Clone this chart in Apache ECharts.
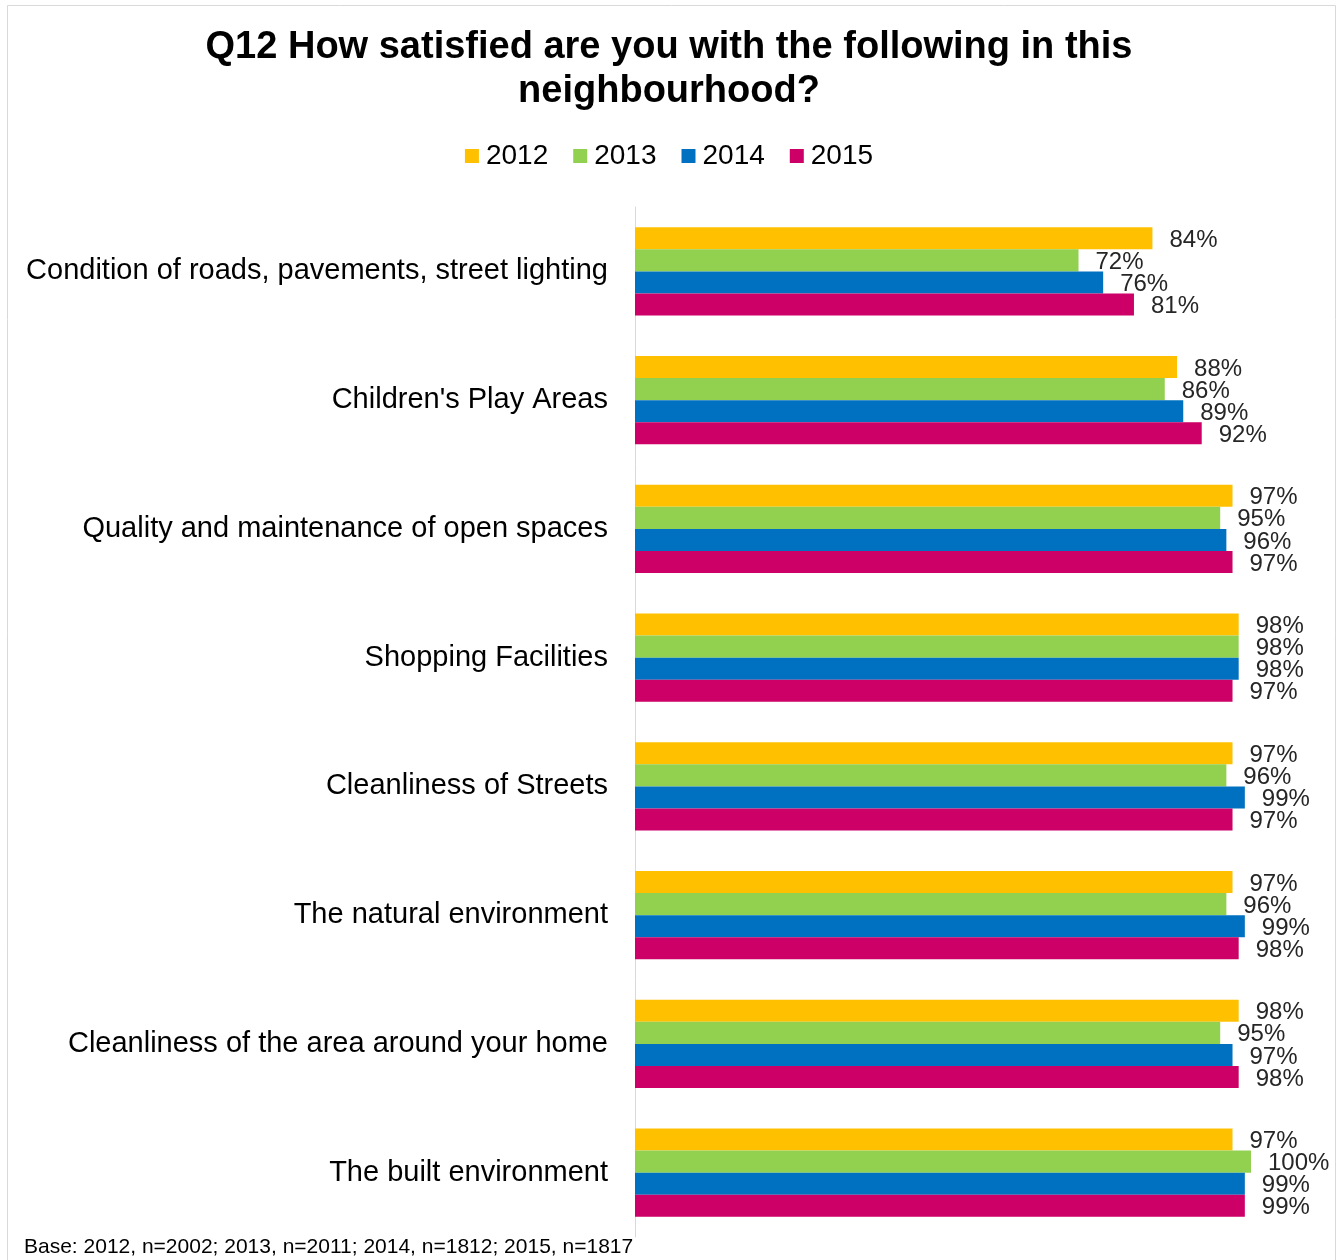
<!DOCTYPE html>
<html>
<head>
<meta charset="utf-8">
<script src="https://cdn.jsdelivr.net/npm/echarts@6/dist/echarts.min.js"></script>
<style>
html,body{margin:0;padding:0;background:#fff;}
#chart{width:1338px;height:1260px;}
</style>
</head>
<body>
<div id="chart"></div>
<script>
var categories = [
  "Condition of roads, pavements, street lighting",
  "Children's Play Areas",
  "Quality and maintenance of open spaces",
  "Shopping Facilities",
  "Cleanliness of Streets",
  "The natural environment",
  "Cleanliness of the area around your home",
  "The built environment"
];
var years = ["2012", "2013", "2014", "2015"];
var values2012 = [84, 88, 97, 98, 97, 97, 98, 97];
var values2013 = [72, 86, 95, 98, 96, 96, 95, 100];
var values2014 = [76, 89, 96, 98, 99, 99, 97, 99];
var values2015 = [81, 92, 97, 97, 97, 98, 98, 99];
var colors = ["#FFC000", "#92D050", "#0070C0", "#CC0066"];
var titleText = "Q12 How satisfied are you with the following in this\nneighbourhood?";
var footnote = "Base: 2012, n=2002; 2013, n=2011; 2014, n=1812; 2015, n=1817";

var seriesData = [values2012, values2013, values2014, values2015];
var font = "Arial, 'Liberation Sans', sans-serif";

var chart = echarts.init(document.getElementById('chart'), null, {renderer: 'canvas'});
var option = {
  backgroundColor: '#ffffff',
  animation: false,
  color: colors,
  title: {
    text: titleText,
    left: 'center',
    top: 21,
    textStyle: {fontFamily: font, fontSize: 38, fontWeight: 'bold', color: '#000', lineHeight: 44}
  },
  legend: {
    data: years,
    top: 137,
    left: 'center',
    itemWidth: 14,
    itemHeight: 14,
    itemGap: 25,
    icon: 'rect',
    textStyle: {fontFamily: font, fontSize: 28, color: '#000', padding: [0,0,0,2]}
  },
  grid: {left: 635, right: 87, top: 207, bottom: 23, containLabel: false},
  xAxis: {
    type: 'value', min: 0, max: 100, show: false
  },
  yAxis: {
    type: 'category',
    data: categories,
    inverse: true,
    axisLine: {show: true, lineStyle: {color: '#d9d9d9', width: 1}},
    axisTick: {show: false},
    axisLabel: {fontFamily: font, fontSize: 29, color: '#000', margin: 27}
  },
  series: seriesData.map(function (d, i) {
    return {
      name: years[i],
      type: 'bar',
      data: d,
      barGap: '0%',
      barCategoryGap: '31.5%',
      itemStyle: {color: colors[i]},
      label: {
        show: true, position: 'right', distance: 17, offset: [0, 2],
        formatter: '{c}%',
        fontFamily: font, fontSize: 24, color: '#262626'
      }
    };
  }),
  graphic: [
    {type: 'rect', left: 5, top: 3, shape: {width: 1328, height: 1262}, style: {fill: 'none', stroke: '#d9d9d9', lineWidth: 1}, silent: true},
    {type: 'text', left: 24, top: 1237, style: {text: footnote, fontFamily: font, fontSize: 21, fill: '#000'}}
  ]
};
chart.setOption(option);
</script>
</body>
</html>
